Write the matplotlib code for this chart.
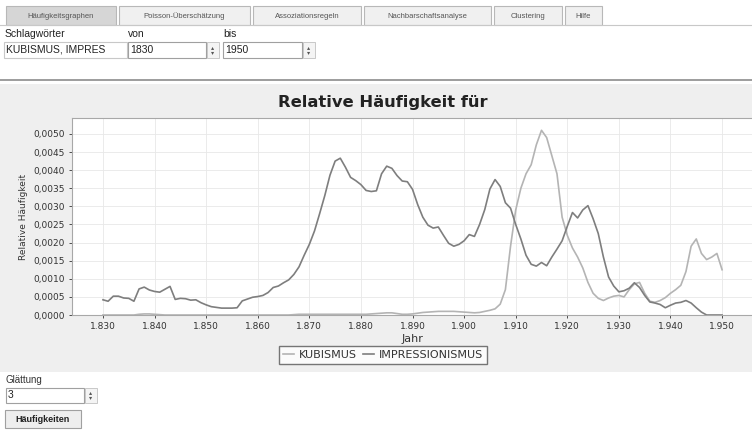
import matplotlib
matplotlib.use('Agg')
import matplotlib.pyplot as plt
from matplotlib.patches import Rectangle
from matplotlib.ticker import FuncFormatter, MultipleLocator

# data: relative frequency per year, 1830-1950
years = list(range(1830, 1951))

kubismus = [
    0, 0, 0, 0, 0, 0, 0, 0.00002, 0.00003, 0.00003,
    0.00002, 0.00001, 0, 0, 0, 0, 0, 0, 0, 0,
    0, 0, 0, 0, 0, 0, 0, 0, 0, 0,
    0, 0, 0, 0, 0, 0, 0, 0.00001, 0.00002, 0.00002,
    0.00002, 0.00002, 0.00002, 0.00002, 0.00002, 0.00002, 0.00002, 0.00002, 0.00002, 0.00002,
    0.00002, 0.00002, 0.00003, 0.00004, 0.00005, 0.00006, 0.00006, 0.00004, 0.00002, 0.00002,
    0.00003, 0.00005, 0.00007, 0.00008, 0.00009, 0.0001, 0.0001, 0.0001, 0.0001, 0.00009,
    0.00008, 0.00007, 0.00006, 0.00007, 0.0001, 0.00013, 0.00017, 0.0003, 0.0007, 0.0019,
    0.0029, 0.0035, 0.0039, 0.00415, 0.0047, 0.0051, 0.0049, 0.0044, 0.0039, 0.0027,
    0.0022, 0.00185, 0.0016, 0.0013, 0.0009, 0.0006, 0.00046, 0.0004, 0.00047, 0.00052,
    0.00054, 0.0005, 0.0007, 0.00086, 0.0009, 0.0006, 0.00038, 0.00035, 0.0004, 0.00048,
    0.0006, 0.0007, 0.00082, 0.0012, 0.0019, 0.0021, 0.0017, 0.00153, 0.0016, 0.0017,
    0.00125,
]

impressionismus = [
    0.00042, 0.00038, 0.00052, 0.00052, 0.00047, 0.00046, 0.00038, 0.00072, 0.00077, 0.00069,
    0.00065, 0.00063, 0.00071, 0.00079, 0.00043, 0.00046, 0.00045, 0.00041, 0.00042, 0.00034,
    0.00028, 0.00023, 0.00021, 0.00019, 0.00019, 0.00019, 0.00020, 0.00039, 0.00044, 0.00049,
    0.00051, 0.00054, 0.00062, 0.00076, 0.00080, 0.00089, 0.00097, 0.00112, 0.00133, 0.00165,
    0.00195, 0.00232, 0.00280, 0.00330, 0.00386, 0.00425, 0.00433, 0.00408, 0.00380, 0.00371,
    0.00360, 0.00344, 0.00341, 0.00343, 0.00390, 0.00411, 0.00405, 0.00385, 0.00370, 0.00368,
    0.00347, 0.00305, 0.00270, 0.00248, 0.00240, 0.00243, 0.00220, 0.00198, 0.00190, 0.00195,
    0.00205, 0.00222, 0.00217, 0.00250, 0.00291, 0.00348, 0.00374, 0.00355, 0.00310, 0.00295,
    0.00250, 0.00210, 0.00165, 0.00140, 0.00135, 0.00145, 0.00136, 0.00160, 0.00182, 0.00205,
    0.00245, 0.00283, 0.00268, 0.00290, 0.00302, 0.00266, 0.00225, 0.00160, 0.00105, 0.00080,
    0.00064, 0.00067, 0.00074, 0.00089, 0.00076, 0.00054, 0.00036, 0.00033, 0.00029, 0.00020,
    0.00027, 0.00033, 0.00035, 0.00040, 0.00033, 0.00020, 0.00008, 0.0, 0.0, 0.0,
    0.0,
]

tab_names = ['Häufigkeitsgraphen', 'Poisson-Überschätzung', 'Assoziationsregeln',
             'Nachbarschaftsanalyse', 'Clustering', 'Hilfe']
tab_edges = [6, 119, 253, 364, 494, 565, 605]

W, H = 752, 432
fig = plt.figure(figsize=(W / 100, H / 100), dpi=100)
fig.patch.set_facecolor('white')

# background "window" drawn in pixel coordinates
bg = fig.add_axes([0, 0, 1, 1], zorder=0)
bg.set_xlim(0, W)
bg.set_ylim(H, 0)
bg.axis('off')

gui = 'Liberation Sans'

# tabs
for i, name in enumerate(tab_names):
    x0, x1 = tab_edges[i], tab_edges[i + 1] - 3
    fc = '#d6d6d6' if i == 0 else '#f0f0f0'
    bg.add_patch(Rectangle((x0, 6), x1 - x0, 19, fc=fc, ec='#b8b8b8', lw=0.8))
    bg.text((x0 + x1) / 2, 16, name, fontsize=5.5, family=gui, color='#555555',
            ha='center', va='center')
bg.plot([0, W], [25, 25], color='#c8c8c8', lw=0.8)

# input row
bg.text(5, 34, 'Schlagwörter', fontsize=7.5, family=gui, color='#222222', va='center')
bg.text(128, 34, 'von', fontsize=7.5, family=gui, color='#222222', va='center')
bg.text(223, 34, 'bis', fontsize=7.5, family=gui, color='#222222', va='center')
bg.add_patch(Rectangle((4, 42), 123, 16, fc='white', ec='#c8c8c8', lw=0.8))
bg.text(6, 50, 'KUBISMUS, IMPRES', fontsize=7.5, family=gui, color='#222222', va='center')


def spin_field(x0, x1, txt, y0=42, h=16):
    bg.add_patch(Rectangle((x0, y0), x1 - x0, h, fc='white', ec='#a0a0a0', lw=0.8))
    bg.add_patch(Rectangle((x1 + 1, y0), 12, h, fc='#f4f4f4', ec='#c0c0c0', lw=0.6))
    bg.text(x0 + 2, y0 + h / 2, txt, fontsize=7.5, family=gui, color='#222222', va='center')
    bg.text(x1 + 7, y0 + h / 2 - 2.5, '▴', fontsize=4.5, ha='center', va='center', color='#555555')
    bg.text(x1 + 7, y0 + h / 2 + 2.5, '▾', fontsize=4.5, ha='center', va='center', color='#555555')


spin_field(128, 206, '1830')
spin_field(223, 302, '1950')

# separator and chart panel
bg.plot([0, W], [80, 80], color='#8c8c8c', lw=1.2)
bg.add_patch(Rectangle((0, 84), W, 288, fc='#efefef', ec='none'))

bg.text(383, 103, 'Relative Häufigkeit für', fontsize=11.8, fontweight='bold',
        ha='center', va='center', color='#222222')

# widgets below chart
bg.text(5, 380, 'Glättung', fontsize=7, family=gui, color='#333333', va='center')
spin_field(6, 84, '3', y0=388, h=15)
bg.add_patch(Rectangle((5, 410), 76, 18, fc='#eeeeee', ec='#a0a0a0', lw=0.8))
bg.text(43, 419, 'Häufigkeiten', fontsize=6.5, family=gui, fontweight='bold',
        color='#222222', ha='center', va='center')

# the chart itself
ax = fig.add_axes([72 / W, 1 - 315 / H, 680 / W, 197 / H], zorder=1)
ax.set_facecolor('white')
ax.plot(years, kubismus, color='#b4b4b4', lw=1.2, label='KUBISMUS')
ax.plot(years, impressionismus, color='#7e7e7e', lw=1.2, label='IMPRESSIONISMUS')

ax.set_xlim(1824, 1955.8)
ax.set_ylim(0, 0.00544)
ax.xaxis.set_major_locator(MultipleLocator(10))
ax.yaxis.set_major_locator(MultipleLocator(0.0005))
ax.xaxis.set_major_formatter(FuncFormatter(lambda v, p: f'{int(round(v)):,}'.replace(',', '.')))
ax.yaxis.set_major_formatter(FuncFormatter(lambda v, p: f'{v:.4f}'.replace('.', ',')))
ax.tick_params(labelsize=6.5, colors='#333333', length=2, width=0.6, pad=3)
ax.grid(True, color='#e8e8e8', lw=0.6)
ax.set_axisbelow(True)
for s in ['left', 'bottom', 'top']:
    ax.spines[s].set_color('#a8a8a8')
    ax.spines[s].set_linewidth(0.8)
ax.spines['right'].set_visible(False)

ax.set_xlabel('Jahr', fontsize=8, color='#333333', labelpad=2)
ax.set_ylabel('Relative Häufigkeit', fontsize=6.5, color='#333333', labelpad=4)

fig.legend(loc='center', bbox_to_anchor=(383 / W, 1 - 355 / H), ncol=2,
           fontsize=8, frameon=True, fancybox=False, edgecolor='#555555',
           handlelength=1.0, handletextpad=0.4, columnspacing=0.6,
           borderpad=0.35, labelcolor='#333333')

fig.savefig('out.png', dpi=100)
